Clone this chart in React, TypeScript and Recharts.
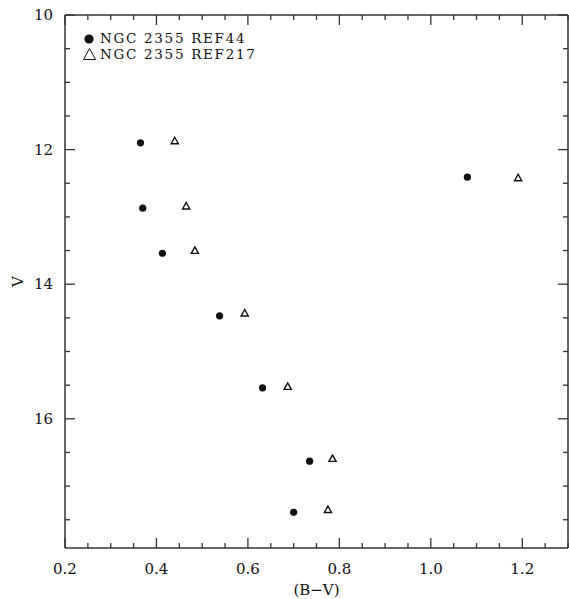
import {
  ScatterChart,
  Scatter,
  XAxis,
  YAxis,
  Legend,
} from 'recharts';

// REF44 photometry (filled circles)
const bvRef44 = [0.365, 0.37, 0.413, 0.538, 0.632, 0.735, 0.7, 1.08];
const vRef44 = [11.9, 12.87, 13.54, 14.47, 15.54, 16.63, 17.39, 12.41];

// REF217 photometry (open triangles)
const bvRef217 = [0.44, 0.465, 0.484, 0.593, 0.687, 0.785, 0.775, 1.191];
const vRef217 = [11.87, 12.84, 13.5, 14.43, 15.52, 16.59, 17.35, 12.42];

const xTicks = [
  0.2, 0.25, 0.3, 0.35, 0.4, 0.45, 0.5, 0.55, 0.6, 0.65, 0.7, 0.75,
  0.8, 0.85, 0.9, 0.95, 1.0, 1.05, 1.1, 1.15, 1.2, 1.25, 1.3,
];
const xLabels = [0.2, 0.4, 0.6, 0.8, 1.0, 1.2];
const yTicks = [10, 10.5, 11, 11.5, 12, 12.5, 13, 13.5, 14, 14.5, 15, 15.5, 16, 16.5, 17, 17.5];
const yLabels = [10, 12, 14, 16];

const ref44 = bvRef44.map((x, i) => ({ x, y: vRef44[i] }));
const ref217 = bvRef217.map((x, i) => ({ x, y: vRef217[i] }));

const FONT = '"DejaVu Serif", serif';
const INK = '#111';
const FRAME = '#333';

const isOn = (list: number[], v: number) => list.some((t) => Math.abs(t - v) < 1e-6);

function BottomTick({ x, y, payload }: any) {
  const major = isOn(xLabels, payload.value);
  return (
    <g>
      <line x1={x} y1={y} x2={x} y2={y - (major ? 10 : 5)} stroke={FRAME} strokeWidth={1.3} />
      {major && (
        <text x={x} y={y + 26} textAnchor="middle" fontFamily={FONT} fontSize={15} fill={INK}>
          {payload.value.toFixed(1)}
        </text>
      )}
    </g>
  );
}

function TopTick({ x, y, payload }: any) {
  const major = isOn(xLabels, payload.value);
  return <line x1={x} y1={y} x2={x} y2={y + (major ? 10 : 5)} stroke={FRAME} strokeWidth={1.3} />;
}

function LeftTick({ x, y, payload }: any) {
  const major = isOn(yLabels, payload.value);
  return (
    <g>
      <line x1={x} y1={y} x2={x + (major ? 10 : 5)} y2={y} stroke={FRAME} strokeWidth={1.3} />
      {major && (
        <text x={x - 12} y={y + 5} textAnchor="end" fontFamily={FONT} fontSize={15} fill={INK}>
          {payload.value}
        </text>
      )}
    </g>
  );
}

function RightTick({ x, y, payload }: any) {
  const major = isOn(yLabels, payload.value);
  return <line x1={x} y1={y} x2={x - (major ? 10 : 5)} y2={y} stroke={FRAME} strokeWidth={1.3} />;
}

const Dot = (props: any) => <circle cx={props.cx} cy={props.cy} r={3.6} fill={INK} />;

const Tri = (props: any) => {
  const { cx, cy } = props;
  const s = 3.6;
  return (
    <path
      d={`M${cx},${cy - s} L${cx + s},${cy + s * 0.8} L${cx - s},${cy + s * 0.8} Z`}
      fill="none"
      stroke={INK}
      strokeWidth={1.4}
    />
  );
};

const Nothing = () => <g />;

function LegendBox() {
  return (
    <svg width={200} height={40}>
      <circle cx={9} cy={11} r={4.6} fill={INK} />
      <text x={20} y={15} fontFamily={FONT} fontSize={13.5} letterSpacing={1.7} fill={INK}>
        NGC 2355 REF44
      </text>
      <path d="M3.5,31.5 L9.5,20.5 L15.5,31.5 Z" fill="none" stroke={INK} strokeWidth={1} />
      <text x={20} y={31} fontFamily={FONT} fontSize={13.5} letterSpacing={1.7} fill={INK}>
        NGC 2355 REF217
      </text>
    </svg>
  );
}

export default function App() {
  return (
    <div style={{ position: 'absolute', left: 0, top: 0, background: '#fff' }}>
      <ScatterChart width={569} height={599} margin={{ top: 14, right: 0, bottom: 0, left: 0 }}>
        <XAxis
          xAxisId="b"
          type="number"
          dataKey="x"
          domain={[0.2, 1.3]}
          ticks={xTicks}
          interval={0}
          allowDataOverflow
          height={51}
          tickSize={0}
          tickMargin={0}
          tickLine={false}
          axisLine={{ stroke: FRAME, strokeWidth: 1.5 }}
          tick={<BottomTick />}
          label={(p: any) => {
            const vb = p.viewBox;
            return (
              <text x={vb.x + vb.width / 2} y={vb.y + 47} textAnchor="middle" fontFamily={FONT} fontSize={15} fill={INK}>
                (B−V)
              </text>
            );
          }}
        />
        <XAxis
          xAxisId="t"
          orientation="top"
          type="number"
          dataKey="x"
          domain={[0.2, 1.3]}
          ticks={xTicks}
          interval={0}
          allowDataOverflow
          height={1}
          tickSize={0}
          tickMargin={0}
          tickLine={false}
          axisLine={{ stroke: FRAME, strokeWidth: 1.5 }}
          tick={<TopTick />}
        />
        <YAxis
          yAxisId="l"
          type="number"
          dataKey="y"
          domain={[10, 17.92]}
          reversed
          ticks={yTicks}
          interval={0}
          allowDataOverflow
          width={65}
          tickSize={0}
          tickMargin={0}
          tickLine={false}
          axisLine={{ stroke: FRAME, strokeWidth: 1.5 }}
          tick={<LeftTick />}
          label={(p: any) => {
            const vb = p.viewBox;
            const cy = vb.y + vb.height / 2;
            return (
              <text x={18} y={cy} transform={`rotate(-90 18 ${cy})`} textAnchor="middle" dominantBaseline="central" fontFamily={FONT} fontSize={15} fill={INK}>
                V
              </text>
            );
          }}
        />
        <YAxis
          yAxisId="r"
          orientation="right"
          type="number"
          dataKey="y"
          domain={[10, 17.92]}
          reversed
          ticks={yTicks}
          interval={0}
          allowDataOverflow
          width={1}
          tickSize={0}
          tickMargin={0}
          tickLine={false}
          axisLine={{ stroke: FRAME, strokeWidth: 1.5 }}
          tick={<RightTick />}
        />
        <Legend
          layout="vertical"
          align="center"
          verticalAlign="middle"
          content={() => <LegendBox />}
          wrapperStyle={{ left: 80, top: 28, width: 200 }}
        />
        <Scatter name="NGC 2355 REF44" data={ref44} xAxisId="b" yAxisId="l" shape={<Dot />} isAnimationActive={false} />
        <Scatter name="NGC 2355 REF217" data={ref217} xAxisId="b" yAxisId="l" shape={<Tri />} isAnimationActive={false} />
        <Scatter data={ref44} xAxisId="t" yAxisId="r" shape={<Nothing />} isAnimationActive={false} legendType="none" />
      </ScatterChart>
    </div>
  );
}
